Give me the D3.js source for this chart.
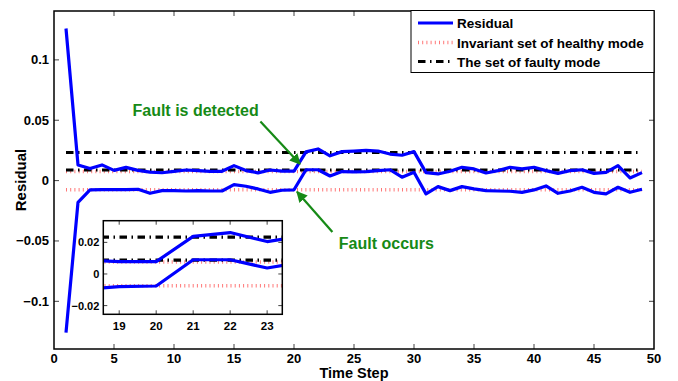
<!DOCTYPE html>
<html><head><meta charset="utf-8">
<script src="https://cdn.jsdelivr.net/npm/d3@7/dist/d3.min.js"></script>
<style>body{margin:0;background:#fff}svg{display:block}text{font-family:"Liberation Sans",Arial,sans-serif;font-weight:bold}</style>
</head><body><svg id="c" width="678" height="381"></svg>
<script>
const timeSteps = [1,2,3,4,5,6,7,8,9,10,11,12,13,14,15,16,17,18,19,20,21,22,23,24,25,26,27,28,29,30,31,32,33,34,35,36,37,38,39,40,41,42,43,44,45,46,47,48,49];
const residualUpper = [0.126,0.013,0.010,0.013,0.0085,0.011,0.0085,0.007,0.0065,0.0077,0.0088,0.0083,0.0077,0.0077,0.0124,0.0083,0.0064,0.0088,0.0078,0.0078,0.0238,0.0262,0.0205,0.024,0.0245,0.025,0.0245,0.022,0.021,0.024,0.0066,0.0055,0.0077,0.011,0.0097,0.0063,0.0083,0.011,0.0097,0.011,0.0083,0.006,0.0083,0.009,0.006,0.0068,0.0124,0.0022,0.0066];
const residualLower = [-0.126,-0.018,-0.0077,-0.0075,-0.0075,-0.0075,-0.0072,-0.0105,-0.0083,-0.0083,-0.0086,-0.0083,-0.0086,-0.0086,-0.0033,-0.0047,-0.0069,-0.0097,-0.0080,-0.0076,0.0090,0.0090,0.0038,0.0075,0.0072,0.0075,0.0083,0.009,0.0028,0.0069,-0.011,-0.005,-0.0083,-0.005,-0.0069,-0.0083,-0.0086,-0.0088,-0.0097,-0.0077,-0.0044,-0.0105,-0.0086,-0.0055,-0.0097,-0.011,-0.0055,-0.0097,-0.0072];
const healthySet = [-0.0075, 0.0075];
const faultySet = [0.0088, 0.0233];
const setSpan = [1, 49];
const xTicks = [0,5,10,15,20,25,30,35,40,45,50];
const yTicks = [-0.1,-0.05,0,0.05,0.1];
const insetXTicks = [19,20,21,22,23];
const insetYTicks = [-0.02,0,0.02];
const legendLabels = ["Residual","Invariant set of healthy mode","The set of faulty mode"];
const annotations = [
  {text:"Fault is detected", tx:11.8, ty:0.0577, from:[17.2,0.049], to:[20.5,0.0138]},
  {text:"Fault occurs", tx:27.7, ty:-0.0517, from:[23.2,-0.0425], to:[20.25,-0.0093]}
];

const svg = d3.select("#c");
const x = d3.scaleLinear().domain([0,50]).range([54,654]);
const y = d3.scaleLinear().domain([-0.1395,0.1405]).range([349,11]);
const xi = d3.scaleLinear().domain([18.57,23.41]).range([103.3,282.3]);
const yi = d3.scaleLinear().domain([-0.0255,0.0337]).range([314.3,220.7]);

const BLUE="#0000ff", RED="#ff4a4a", GREEN="#168a16";
const RED_DASH="1,3.2", BLK_DASH="7.5,4.5,1.5,4.5";

function drawSeries(g, sx, sy){
  healthySet.forEach(v=>{
    g.append("line").attr("x1",sx(setSpan[0])).attr("x2",sx(setSpan[1])).attr("y1",sy(v)).attr("y2",sy(v))
      .attr("stroke",RED).attr("stroke-width",3.5).attr("stroke-dasharray",RED_DASH).attr("stroke-opacity",0.75);
  });
  faultySet.forEach(v=>{
    g.append("line").attr("x1",sx(setSpan[0])).attr("x2",sx(setSpan[1])).attr("y1",sy(v)).attr("y2",sy(v))
      .attr("stroke","#000").attr("stroke-width",3.2).attr("stroke-dasharray",BLK_DASH);
  });
  const line = d3.line().x(d=>sx(d[0])).y(d=>sy(d[1]));
  [residualUpper,residualLower].forEach(arr=>{
    g.append("path").datum(timeSteps.map((t,i)=>[t,arr[i]])).attr("d",line)
      .attr("fill","none").attr("stroke",BLUE).attr("stroke-width",3.2).attr("stroke-linejoin","round");
  });
}

drawSeries(svg.append("g"), x, y);

const tickLen = 5;
const gx = svg.append("g");
xTicks.forEach(t=>{
  if(t>0 && t<50){
    gx.append("line").attr("x1",x(t)).attr("x2",x(t)).attr("y1",y.range()[0]).attr("y2",y.range()[0]-tickLen).attr("stroke","#444").attr("stroke-width",1);
    gx.append("line").attr("x1",x(t)).attr("x2",x(t)).attr("y1",y.range()[1]).attr("y2",y.range()[1]+tickLen).attr("stroke","#444").attr("stroke-width",1);
  }
  gx.append("text").attr("x",x(t)).attr("y",362.5).attr("text-anchor","middle").attr("font-size",13).text(t);
});
yTicks.forEach(t=>{
  svg.append("line").attr("x1",x(0)).attr("x2",x(0)+tickLen).attr("y1",y(t)).attr("y2",y(t)).attr("stroke","#444");
  svg.append("line").attr("x1",x(50)).attr("x2",x(50)-tickLen).attr("y1",y(t)).attr("y2",y(t)).attr("stroke","#444");
  svg.append("text").attr("x",x(0)-5).attr("y",y(t)+4.5).attr("text-anchor","end").attr("font-size",13)
    .text(t===0?"0":d3.format("")(t).replace("-","\u2212"));
});
svg.append("rect").attr("x",x(0)).attr("y",y.range()[1]).attr("width",x(50)-x(0)).attr("height",y.range()[0]-y.range()[1])
  .attr("fill","none").attr("stroke","#000").attr("stroke-width",1.5);

svg.append("text").attr("x",(x(0)+x(50))/2).attr("y",377.6).attr("text-anchor","middle").attr("font-size",14.5).text("Time Step");
svg.append("text").attr("transform","translate(26,"+((y.range()[0]+y.range()[1])/2)+") rotate(-90)").attr("text-anchor","middle").attr("font-size",15).text("Residual");

const defs = svg.append("defs");
defs.append("marker").attr("id","ah").attr("viewBox","0 0 10 10").attr("refX",9).attr("refY",5)
  .attr("markerWidth",5).attr("markerHeight",5).attr("orient","auto").attr("markerUnits","strokeWidth")
  .append("path").attr("d","M0,0 L10,5 L0,10 z").attr("fill",GREEN);
annotations.forEach(a=>{
  svg.append("text").attr("x",x(a.tx)).attr("y",y(a.ty)+5.5).attr("text-anchor","middle").attr("font-size",16).attr("fill",GREEN).text(a.text);
  svg.append("line").attr("x1",x(a.from[0])).attr("y1",y(a.from[1])).attr("x2",x(a.to[0])).attr("y2",y(a.to[1]))
    .attr("stroke",GREEN).attr("stroke-width",2.2).attr("marker-end","url(#ah)");
});

const ins = svg.append("g");
ins.append("rect").attr("x",xi.range()[0]).attr("y",yi.range()[1]).attr("width",xi.range()[1]-xi.range()[0]).attr("height",yi.range()[0]-yi.range()[1]).attr("fill","#fff");
defs.append("clipPath").attr("id","clipi").append("rect").attr("x",xi.range()[0]).attr("y",yi.range()[1]).attr("width",xi.range()[1]-xi.range()[0]).attr("height",yi.range()[0]-yi.range()[1]);
drawSeries(ins.append("g").attr("clip-path","url(#clipi)"), xi, yi);
insetXTicks.forEach(t=>{
  ins.append("line").attr("x1",xi(t)).attr("x2",xi(t)).attr("y1",yi.range()[0]).attr("y2",yi.range()[0]-4).attr("stroke","#444");
  ins.append("line").attr("x1",xi(t)).attr("x2",xi(t)).attr("y1",yi.range()[1]).attr("y2",yi.range()[1]+4).attr("stroke","#444");
  ins.append("text").attr("x",xi(t)).attr("y",330).attr("text-anchor","middle").attr("font-size",11.5).text(t);
});
insetYTicks.forEach(t=>{
  ins.append("line").attr("x1",xi.range()[0]).attr("x2",xi.range()[0]+4).attr("y1",yi(t)).attr("y2",yi(t)).attr("stroke","#444");
  ins.append("line").attr("x1",xi.range()[1]).attr("x2",xi.range()[1]-4).attr("y1",yi(t)).attr("y2",yi(t)).attr("stroke","#444");
  ins.append("text").attr("x",xi.range()[0]-4).attr("y",yi(t)+4).attr("text-anchor","end").attr("font-size",11)
    .text(t===0?"0":String(t).replace("-","\u2212"));
});
ins.append("rect").attr("x",xi.range()[0]).attr("y",yi.range()[1]).attr("width",xi.range()[1]-xi.range()[0]).attr("height",yi.range()[0]-yi.range()[1])
  .attr("fill","none").attr("stroke","#000").attr("stroke-width",1.5);

const lg = svg.append("g");
lg.append("rect").attr("x",411).attr("y",10.5).attr("width",243).attr("height",62).attr("fill","#fff").attr("stroke","#000").attr("stroke-width",1);
const ly = [23,42.5,61.5];
const styles = [
  {stroke:BLUE,w:3.2,dash:null,op:1},
  {stroke:RED,w:3.5,dash:RED_DASH,op:0.75},
  {stroke:"#000",w:3.2,dash:BLK_DASH,op:1}
];
legendLabels.forEach((lab,i)=>{
  const l = lg.append("line").attr("x1",418).attr("x2",453).attr("y1",ly[i]).attr("y2",ly[i]).attr("stroke",styles[i].stroke).attr("stroke-width",styles[i].w).attr("stroke-opacity",styles[i].op);
  if(styles[i].dash) l.attr("stroke-dasharray",styles[i].dash);
  lg.append("text").attr("x",457).attr("y",ly[i]+5).attr("font-size",13.5).text(lab);
});
</script></body></html>
